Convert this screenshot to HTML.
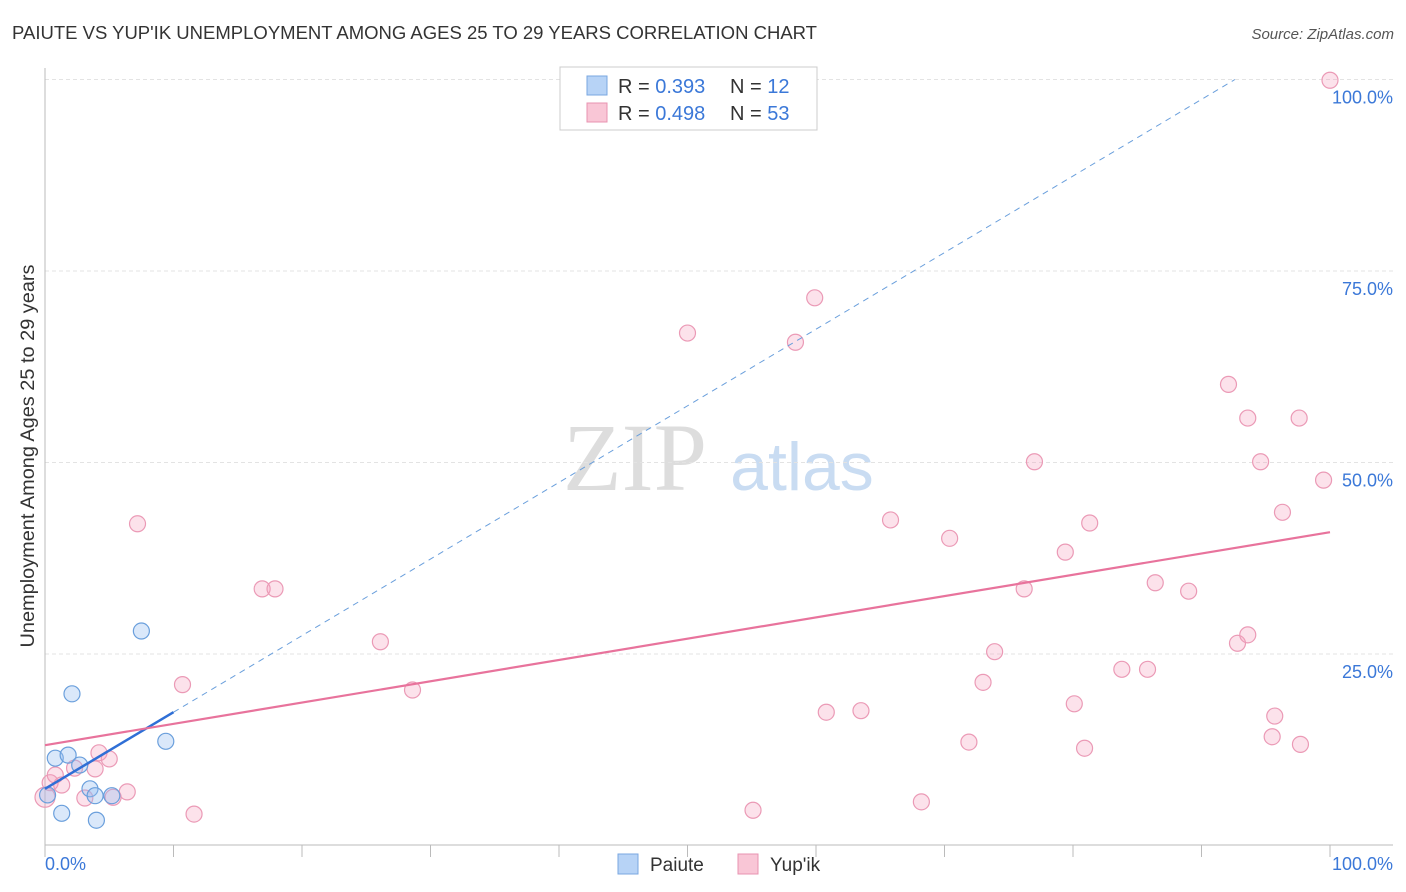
<!DOCTYPE html>
<html><head><meta charset="utf-8"><style>
body{margin:0;background:#fff;font-family:"Liberation Sans",sans-serif;}
</style></head><body>
<svg id="chart" width="1406" height="892" xmlns="http://www.w3.org/2000/svg" style="display:block">
<text x="12" y="39" font-size="18.5" fill="#333" textLength="805" lengthAdjust="spacingAndGlyphs">PAIUTE VS YUP'IK UNEMPLOYMENT AMONG AGES 25 TO 29 YEARS CORRELATION CHART</text>
<text x="1394" y="39" font-size="15" fill="#555" font-style="italic" text-anchor="end">Source: ZipAtlas.com</text>
<g>
<text x="635" y="490" font-family="Liberation Serif,serif" font-size="96" fill="#ddd" text-anchor="middle">ZIP</text>
<text x="802" y="490" font-size="68" fill="#c9dcf2" text-anchor="middle">atlas</text>
</g>
<g id="grid"></g><g id="axes"></g><g id="marks"></g>
<text transform="translate(34,456) rotate(-90)" font-size="19" fill="#333" text-anchor="middle" textLength="383" lengthAdjust="spacingAndGlyphs">Unemployment Among Ages 25 to 29 years</text>
<g>
<rect x="560" y="67" width="257" height="63" fill="#fff" stroke="#ccc"/>
<rect x="587" y="76" width="20" height="19" fill="#b7d3f6" stroke="#7aa7e0"/>
<text x="618" y="93" font-size="20" fill="#333">R = <tspan fill="#3b78d8">0.393</tspan></text>
<text x="730" y="93" font-size="20" fill="#333">N = <tspan fill="#3b78d8">12</tspan></text>
<rect x="587" y="103" width="20" height="19" fill="#f9c6d6" stroke="#e893b0"/>
<text x="618" y="120" font-size="20" fill="#333">R = <tspan fill="#3b78d8">0.498</tspan></text>
<text x="730" y="120" font-size="20" fill="#333">N = <tspan fill="#3b78d8">53</tspan></text>
</g>
<g>
<rect x="618" y="854" width="20" height="20" fill="#b7d3f6" stroke="#7aa7e0"/>
<text x="650" y="871" font-size="19" fill="#333">Paiute</text>
<rect x="738" y="854" width="20" height="20" fill="#f9c6d6" stroke="#e893b0"/>
<text x="770" y="871" font-size="19" fill="#333">Yup'ik</text>
</g>
</svg>
<script>
const paiuteX=[0.2,0.8,1.3,1.8,2.1,2.7,3.5,4.0,3.9,5.2,7.5,9.4];
const paiuteY=[6.6,11.4,4.2,11.8,19.8,10.5,7.4,3.3,6.5,6.5,28.0,13.6];
const yupikX=[0,0.4,0.8,1.3,2.3,3.1,3.9,4.2,5.0,5.3,6.4,7.2,10.7,11.6,16.9,17.9,26.1,28.6,50.0,55.1,58.4,59.9,60.8,63.5,65.8,68.2,70.4,71.9,73.0,73.9,76.2,77.0,79.4,80.1,80.9,81.3,83.8,85.8,86.4,89.0,92.1,92.8,93.6,93.6,94.6,95.5,95.7,96.3,97.6,97.7,99.5,100];
const yupikY=[6.3,8.2,9.2,7.9,10.1,6.2,10.0,12.1,11.3,6.3,7.0,42.0,21.0,4.1,33.5,33.5,26.6,20.3,66.9,4.6,65.7,71.5,17.4,17.6,42.5,5.7,40.1,13.5,21.3,25.3,33.5,50.1,38.3,18.5,12.7,42.1,23.0,23.0,34.3,33.2,60.2,26.4,27.5,55.8,50.1,14.2,16.9,43.5,55.8,13.2,47.7,99.9];
const yTicks=[25,50,75,100];
const yTickLabels=["25.0%","50.0%","75.0%","100.0%"];
const xTicks=[0,10,20,30,40,50,60,70,80,90,100];
const paiuteTrend=[7.4,1.0];
const yupikTrend=[13.1,0.278];
const NS="http://www.w3.org/2000/svg";
const sx=v=>45+v*12.85, sy=v=>845.5-v*7.66;
function mk(p,t,a){const e=document.createElementNS(NS,t);for(const k in a)e.setAttribute(k,a[k]);p.appendChild(e);return e;}
const G=document.getElementById('grid'),A=document.getElementById('axes'),M=document.getElementById('marks');
yTicks.forEach((t,i)=>{
 const l=mk(G,'line',{x1:45,x2:1393,y1:sy(t),y2:sy(t),stroke:'#e3e3e3','stroke-dasharray':'4,3'});
 
 
 const tx=mk(A,'text',{x:1393,y:sy(t)+24,'font-size':18,fill:'#3b78d8','text-anchor':'end'});
 tx.textContent=yTickLabels[i];
 
 
});
const ax=mk(A,'path',{d:'M45,68V845H1393',stroke:'#bbb',fill:'none'});


xTicks.forEach(t=>{const l=mk(A,'line',{x1:sx(t),x2:sx(t),y1:845,y2:857,stroke:'#bbb'});
 
 });
[[0,'0.0%','start',45],[100,'100.0%','end',1393]].forEach(d=>{const t=mk(A,'text',{x:d[3],y:870,'font-size':18,fill:'#3b78d8','text-anchor':d[2]});t.textContent=d[1];
 
 });
yupikX.forEach((x,i)=>{const c=mk(M,'circle',{cx:sx(x),cy:sy(yupikY[i]),r:i==0?10:8,fill:'rgba(244,160,190,0.3)',stroke:'#eb9ab6','stroke-width':1.2});
 
 });
paiuteX.forEach((x,i)=>{const c=mk(M,'circle',{cx:sx(x),cy:sy(paiuteY[i]),r:8,fill:'rgba(150,190,240,0.35)',stroke:'#6a9fdc','stroke-width':1.2});
 
 });
const xEnd=(100-paiuteTrend[0])/paiuteTrend[1];
const pd=mk(M,'line',{x1:sx(10),y1:sy(paiuteTrend[0]+10*paiuteTrend[1]),x2:sx(xEnd),y2:sy(100),stroke:'#6a9fdc','stroke-width':1,'stroke-dasharray':'6,5'});


const ps=mk(M,'line',{x1:sx(0),y1:sy(paiuteTrend[0]),x2:sx(10),y2:sy(paiuteTrend[0]+10*paiuteTrend[1]),stroke:'#2f6fd6','stroke-width':2.5});


const yl=mk(M,'line',{x1:sx(0),y1:sy(yupikTrend[0]),x2:sx(100),y2:sy(yupikTrend[0]+100*yupikTrend[1]),stroke:'#e8739c','stroke-width':2.2});


</script>
</body></html>
